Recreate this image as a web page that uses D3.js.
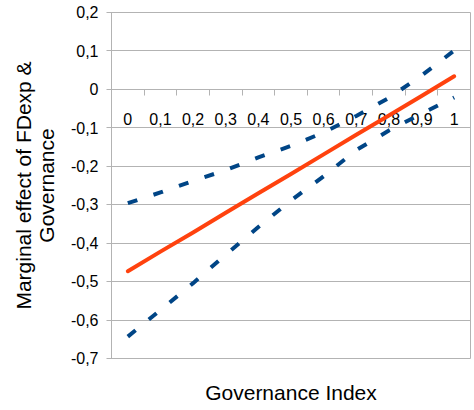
<!DOCTYPE html>
<html>
<head>
<meta charset="utf-8">
<script src="https://cdn.jsdelivr.net/npm/d3@7"></script>
<style>
  html, body { margin: 0; padding: 0; background: #fff; }
  svg { display: block; font-family: "Liberation Sans", Arial, sans-serif; }
</style>
</head>
<body>
<svg id="chart" width="474" height="410"></svg>
<script>
// Marginal effect of FDexp & Governance, with confidence band
const categories = ['0', '0,1', '0,2', '0,3', '0,4', '0,5', '0,6', '0,7', '0,8', '0,9', '1'];
const effect = [-0.473, -0.422, -0.372, -0.321, -0.270, -0.220, -0.169, -0.118, -0.068, -0.017, 0.034];
const upper  = [-0.296, -0.268, -0.238, -0.210, -0.177, -0.147, -0.112, -0.069, -0.022, 0.036, 0.101];
const lower  = [-0.643, -0.574, -0.504, -0.430, -0.358, -0.289, -0.226, -0.158, -0.107, -0.063, -0.021];
const yDomain = [-0.7, 0.2];

const width = 474;
const height = 410;
const margin = { top: 12.5, right: 3.5, bottom: 51.5, left: 111.5 };
const innerWidth = width - margin.left - margin.right;
const innerHeight = height - margin.top - margin.bottom;

const svg = d3.select('#chart');
const g = svg.append('g').attr('transform', `translate(${margin.left},${margin.top})`);

const x = d3.scaleBand().domain(categories).range([0, innerWidth]).padding(0);
const y = d3.scaleLinear().domain(yDomain).range([innerHeight, 0]);
const cx = c => x(c) + x.bandwidth() / 2;

const fmt = d3.formatLocale({ decimal: ',', thousands: '.', grouping: [3], currency: ['', ''], minus: '-' }).format('~g');
const grid = '#b3b3b3';

// gridlines + y ticks
const yTicks = y.ticks(10);
g.append('g').selectAll('line')
  .data(yTicks)
  .join('line')
    .attr('x1', -5).attr('x2', innerWidth)
    .attr('y1', d => Math.round(y(d))).attr('y2', d => Math.round(y(d)))
    .attr('stroke', grid).attr('stroke-width', 1);

g.append('g').selectAll('text')
  .data(yTicks)
  .join('text')
    .attr('x', -13)
    .attr('y', d => y(d))
    .attr('dy', '0.36em')
    .attr('text-anchor', 'end')
    .attr('font-size', 16)
    .attr('fill', '#000')
    .text(d => fmt(+d.toFixed(2)));

// plot frame (left + right sides)
g.append('line').attr('x1', 0).attr('x2', 0).attr('y1', 0).attr('y2', innerHeight).attr('stroke', grid);
g.append('line').attr('x1', innerWidth).attr('x2', innerWidth).attr('y1', 0).attr('y2', innerHeight).attr('stroke', grid);

// category axis crossing at zero
const y0 = Math.round(y(0));
g.append('g').selectAll('line')
  .data(categories.slice(1))
  .join('line')
    .attr('x1', d => Math.round(x(d))).attr('x2', d => Math.round(x(d)))
    .attr('y1', y0).attr('y2', y0 + 6)
    .attr('stroke', grid);

g.append('g').selectAll('text')
  .data(categories)
  .join('text')
    .attr('x', d => cx(d))
    .attr('y', y0 + 35)
    .attr('text-anchor', 'middle')
    .attr('font-size', 16)
    .attr('fill', '#000')
    .text(d => d);

// series lines
const line = d3.line().x((d, i) => cx(categories[i])).y(d => y(d));

g.append('path').datum(upper)
  .attr('d', line).attr('fill', 'none')
  .attr('stroke', '#004586').attr('stroke-width', 4)
  .attr('stroke-dasharray', '10,17');

g.append('path').datum(lower)
  .attr('d', line).attr('fill', 'none')
  .attr('stroke', '#004586').attr('stroke-width', 4)
  .attr('stroke-dasharray', '10,17');

g.append('path').datum(effect)
  .attr('d', line).attr('fill', 'none')
  .attr('stroke', '#ff420e').attr('stroke-width', 4)
  .attr('stroke-linecap', 'round');

// axis titles
svg.append('text')
  .attr('x', margin.left + innerWidth / 2)
  .attr('y', 400)
  .attr('text-anchor', 'middle')
  .attr('font-size', 21)
  .text('Governance Index');

const yTitle = svg.append('text')
  .attr('transform', `translate(0,${margin.top + innerHeight / 2}) rotate(-90)`)
  .attr('text-anchor', 'middle')
  .attr('font-size', 21);
yTitle.append('tspan').attr('x', 0).attr('y', 31).text('Marginal effect of FDexp &');
yTitle.append('tspan').attr('x', 0).attr('y', 54).text('Governance');
</script>
</body>
</html>
